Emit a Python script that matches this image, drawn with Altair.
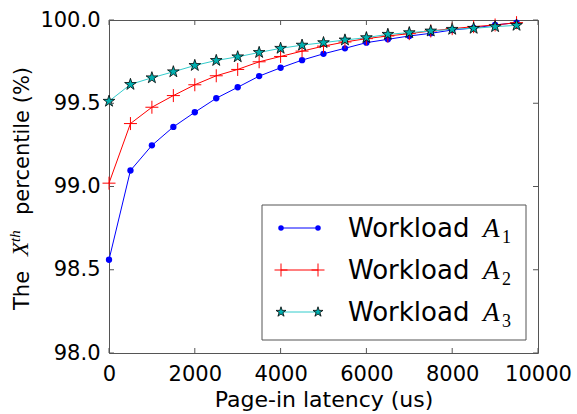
import math
import altair as alt
import pandas as pd

# ---- data ----
latency = [0, 500, 1000, 1500, 2000, 2500, 3000, 3500, 4000, 4500,
           5000, 5500, 6000, 6500, 7000, 7500, 8000, 8500, 9000, 9500]
workload_a1 = [98.56, 99.096, 99.247, 99.358, 99.446, 99.53, 99.596, 99.663, 99.713, 99.759,
               99.797, 99.83, 99.864, 99.884, 99.904, 99.92, 99.94, 99.952, 99.97, 99.984]
workload_a2 = [99.02, 99.378, 99.476, 99.546, 99.611, 99.665, 99.703, 99.749, 99.781, 99.813,
               99.843, 99.868, 99.888, 99.904, 99.918, 99.934, 99.948, 99.96, 99.97, 99.984]
workload_a3 = [99.512, 99.613, 99.653, 99.689, 99.727, 99.757, 99.779, 99.805, 99.83, 99.849,
               99.864, 99.88, 99.894, 99.914, 99.924, 99.934, 99.944, 99.95, 99.96, 99.968]
x_ticks = [0, 2000, 4000, 6000, 8000, 10000]
y_ticks = [98.0, 98.5, 99.0, 99.5, 100.0]
subscripts = ["1", "2", "3"]

W, H = 429, 333
FRAME = "#555555"
xs = alt.Scale(domain=[0, 10000], nice=False, zero=False)
ys = alt.Scale(domain=[98, 100], nice=False, zero=False)
XAX = alt.Axis(values=x_ticks, format="d", title="Page-in latency (us)",
               labelPadding=10, labelFlush=False, labelOverlap=False,
               titleBaseline="alphabetic", titleY=53)
YAX = alt.Axis(values=y_ticks, format=".1f", title=None, labelPadding=9,
               labelFlush=False, labelOverlap=False)

# marker shapes (unit-box symbol paths)
PLUS = "M-1,0L1,0M0,-1L0,1"
pts = []
for k in range(10):
    ang = math.radians(-90 + 36 * k)
    r = 1.0 if k % 2 == 0 else 0.382
    pts.append(f"{r * math.cos(ang):.4f},{r * math.sin(ang):.4f}")
STAR = "M" + "L".join(pts) + "Z"

series = [
    (workload_a1, "#0000ff", dict(shape="circle", filled=True, size=40, color="#0000ff")),
    (workload_a2, "#ff0000", dict(shape=PLUS, filled=False, size=169, color="#ff0000", strokeWidth=1)),
    (workload_a3, "#33cccc", dict(shape=STAR, filled=True, size=150, fill="#00b0b0",
                                  stroke="black", strokeWidth=0.8)),
]

layers = []
for vals, lc, mk in series:
    d = pd.DataFrame({"latency": latency, "pct": vals})
    enc = dict(x=alt.X("latency:Q", scale=xs, axis=XAX),
               y=alt.Y("pct:Q", scale=ys, axis=YAX))
    layers.append(alt.Chart(d).mark_line(color=lc, strokeWidth=1).encode(**enc))
    layers.append(alt.Chart(d).mark_point(opacity=1, **mk).encode(**enc))

# inside tick marks on all four sides
xt = pd.DataFrame({"t": x_ticks})
yt = pd.DataFrame({"t": y_ticks})
for y0, y1 in [(H, H - 5), (0, 5)]:
    layers.append(alt.Chart(xt).mark_rule(color=FRAME, strokeWidth=1).encode(
        x=alt.X("t:Q", scale=xs, axis=XAX), y=alt.value(y0), y2=alt.value(y1)))
for x0, x1 in [(0, 5), (W, W - 5)]:
    layers.append(alt.Chart(yt).mark_rule(color=FRAME, strokeWidth=1).encode(
        y=alt.Y("t:Q", scale=ys, axis=YAX), x=alt.value(x0), x2=alt.value(x1)))


def text(txt, x, y, size, font="DejaVu Sans", style="normal", angle=0):
    return alt.Chart(pd.DataFrame({"t": [txt]})).mark_text(
        font=font, fontSize=size, fontStyle=style, angle=angle, align="left",
        baseline="alphabetic", color="black").encode(
        text="t:N", x=alt.value(x), y=alt.value(y))


# legend
layers.append(alt.Chart(pd.DataFrame({"a": [0]})).mark_rect(
    fill="white", stroke=FRAME, strokeWidth=1).encode(
    x=alt.value(153), x2=alt.value(417), y=alt.value(185), y2=alt.value(320)))
for i, (vals, lc, mk) in enumerate(series):
    ry = 208 + 42 * i
    one = pd.DataFrame({"a": [0]})
    layers.append(alt.Chart(one).mark_rule(color=lc, strokeWidth=1).encode(
        x=alt.value(172), x2=alt.value(209), y=alt.value(ry)))
    mk2 = dict(mk)
    if i == 0:
        mk2["size"] = 30
    if i == 2:
        mk2["size"] = 110
    for px in (172, 209):
        layers.append(alt.Chart(one).mark_point(opacity=1, **mk2).encode(
            x=alt.value(px), y=alt.value(ry)))
    layers.append(text("Workload", 239, ry + 9, 26))
    layers.append(text("A", 374, ry + 9, 27, font="Liberation Serif", style="italic"))
    layers.append(text(subscripts[i], 393, ry + 15, 18, font="Liberation Serif"))

# y-axis title with math X^th
layers.append(text("The", -80, 290, 21, angle=270))
layers.append(text("X", -81, 236, 23, font="Liberation Serif", style="italic", angle=270))
layers.append(text("th", -89, 222, 15, font="Liberation Serif", style="italic", angle=270))
layers.append(text("percentile (%)", -80, 195, 21, angle=270))

chart = alt.layer(*layers).properties(
    width=W, height=H,
    autosize=alt.AutoSizeParams(type="none"),
    padding={"left": 109, "top": 20, "right": 39, "bottom": 61},
    background="white",
).configure_view(stroke=FRAME, strokeWidth=1).configure_axis(
    labelFont="DejaVu Sans", labelFontSize=21, labelColor="black",
    titleFont="DejaVu Sans", titleFontSize=22, titleFontWeight="normal", titleColor="black",
    ticks=False, tickSize=0, domain=False, grid=False)

chart.save("out.html", embed_options={"renderer": "svg", "actions": False})
